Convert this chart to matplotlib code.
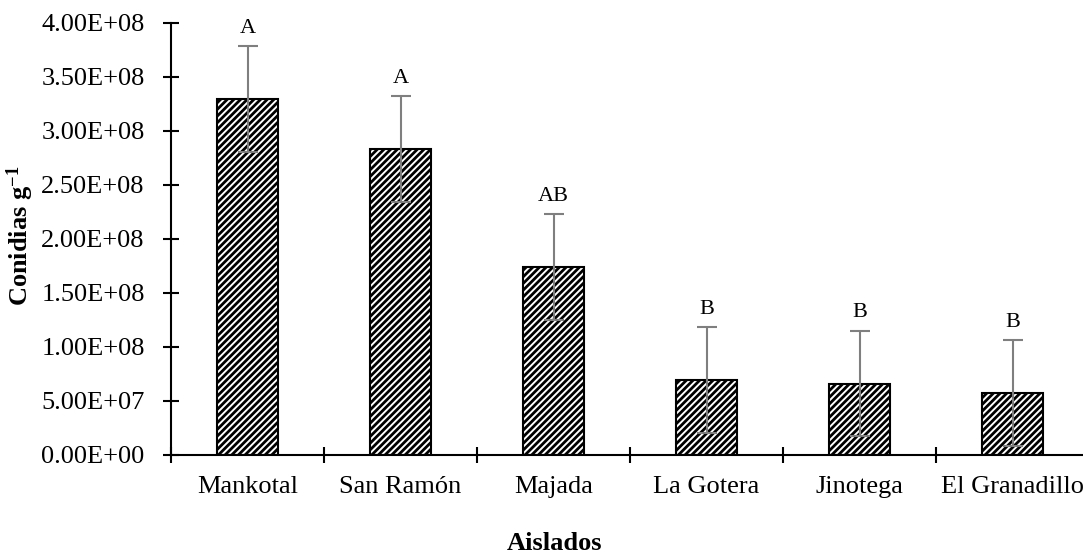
import numpy as np
import matplotlib.pyplot as plt
from matplotlib.ticker import FuncFormatter

aislados = ["Mankotal", "San Ramón", "Majada", "La Gotera", "Jinotega", "El Granadillo"]
conidias = [3.29e8, 2.83e8, 1.74e8, 0.69e8, 0.66e8, 0.57e8]
error = [0.49e8, 0.49e8, 0.49e8, 0.49e8, 0.49e8, 0.49e8]
letras = ["A", "A", "AB", "B", "B", "B"]

plt.rcParams['font.family'] = ['Liberation Serif', 'DejaVu Serif']
plt.rcParams['mathtext.fontset'] = 'custom'
plt.rcParams['mathtext.rm'] = 'Liberation Serif'
plt.rcParams['mathtext.bf'] = 'Liberation Serif:bold'
plt.rcParams['hatch.linewidth'] = 2.0

fig = plt.figure(figsize=(10.83, 5.54), dpi=100)
ax = fig.add_axes([0.158, 0.179, 0.8476, 0.78])

x = np.arange(len(aislados))
ax.bar(x, conidias, width=0.4, color="white", edgecolor="black", linewidth=1.5, hatch="/////")
ax.errorbar(x, conidias, yerr=error, fmt="none", ecolor="#7f7f7f", elinewidth=1.5, capsize=7, capthick=1.5)

# letras de significancia sobre las barras de error
for xi, yi, e, l in zip(x, conidias, error, letras):
    ax.annotate(l, (xi, yi + e), xytext=(0, 6), textcoords="offset points",
                ha="center", va="bottom", fontsize=16)

ax.set_xlim(-0.5, len(aislados) - 0.5)
ax.set_ylim(0, 4e8)
ax.set_yticks(np.arange(0, 4.01e8, 0.5e8))
ax.yaxis.set_major_formatter(FuncFormatter(lambda v, p: f"{v:.2E}"))
ax.set_xticks(x)
ax.set_xticklabels(aislados)
ax.set_xticks(np.arange(-0.5, len(aislados) + 0.5, 1), minor=True)

ax.tick_params(axis="y", direction="inout", length=12, width=1.5, labelsize=19, pad=13)
ax.tick_params(axis="x", which="major", length=0, labelsize=19, pad=15)
ax.tick_params(axis="x", which="minor", direction="inout", length=12, width=1.5)

for s in ["top", "right"]:
    ax.spines[s].set_visible(False)
for s in ["left", "bottom"]:
    ax.spines[s].set_linewidth(1.5)

ax.set_ylabel("Conidias g$\\mathbf{^{-1}}$", fontsize=19, fontweight="bold", va="center")
ax.yaxis.set_label_coords(-0.1645, 0.507)
ax.set_xlabel("Aislados", fontsize=19, fontweight="bold", va="top")
ax.xaxis.set_label_coords(0.418, -0.178)

fig.savefig("out.png", dpi=100)
